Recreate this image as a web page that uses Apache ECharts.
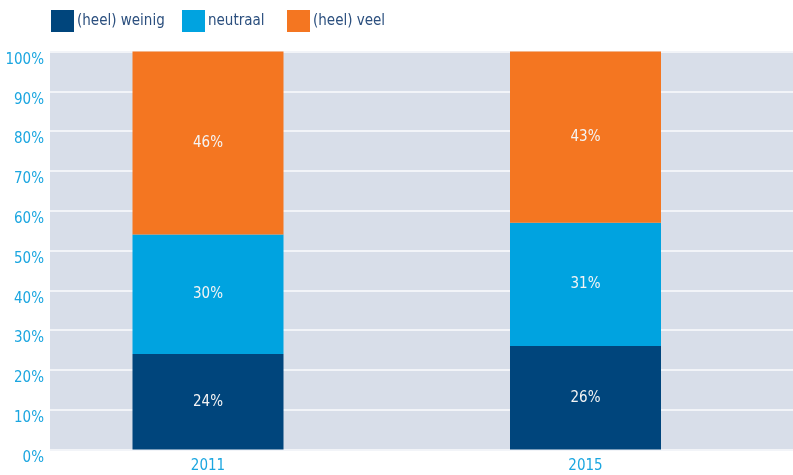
<!DOCTYPE html>
<html>
<head>
<meta charset="utf-8">
<script src="https://cdn.jsdelivr.net/npm/echarts@6/dist/echarts.min.js"></script>
<style>html,body{margin:0;padding:0;background:#fff;}#c{width:793px;height:475px;}</style>
</head>
<body>
<div id="c"></div>
<script>
var categories = ['2011', '2015'];
var weinig = [24, 26];
var neutraal = [30, 31];
var veel = [46, 43];
var seriesNames = ['(heel) weinig', 'neutraal', '(heel) veel'];
var yTicks = [0, 10, 20, 30, 40, 50, 60, 70, 80, 90, 100];

var FONT = '"DejaVu Sans Condensed", "Liberation Sans Narrow", sans-serif';
var colors = ['#00457c', '#00a3e0', '#f47621'];
var legendLefts = [51, 182, 287];

var chart = echarts.init(document.getElementById('c'), null, {renderer: 'canvas'});
function mk(name, data, color) {
  return {
    name: name, type: 'bar', stack: 'all', data: data,
    xAxisIndex: 0, yAxisIndex: 0,
    barWidth: 151,
    itemStyle: {color: color},
    label: {show: true, position: 'inside', formatter: '{c}%', color: '#f4f4f4',
            fontFamily: FONT, fontSize: 15}
  };
}
var legends = seriesNames.map(function (n, i) {
  return {
    left: legendLefts[i], top: 10, padding: 0, itemWidth: 23, itemHeight: 22,
    icon: 'rect', data: [n],
    textStyle: {color: '#2b4f7e', fontFamily: FONT, fontSize: 15, padding: [0, 0, 0, -2]}
  };
});
chart.setOption({
  animation: false,
  color: colors,
  legend: legends,
  grid: [
    {left: 19.25, right: 18.75, top: 51.5, bottom: 25.5, containLabel: false},
    {left: 50, right: 0, top: 51.5, bottom: 25.5, containLabel: false, show: true,
     backgroundColor: '#d8dee9', borderWidth: 0}
  ],
  xAxis: [
    {type: 'category', gridIndex: 0, data: categories,
     axisLine: {show: false}, axisTick: {show: false},
     axisLabel: {color: '#1ba6e0', fontFamily: FONT, fontSize: 15, margin: 9}},
    {type: 'value', gridIndex: 1, show: false, min: 0, max: 1}
  ],
  yAxis: [
    {type: 'value', gridIndex: 0, min: 0, max: 100, interval: 10, show: false,
     splitLine: {show: false}},
    {type: 'value', gridIndex: 1, min: 0, max: 100, interval: 10,
     axisLine: {show: false}, axisTick: {show: false},
     axisLabel: {color: '#1ba6e0', fontFamily: FONT, fontSize: 15, margin: 6,
                 verticalAlign: 'top', lineHeight: 15, padding: [1, 0, 0, 0],
                 formatter: function (v) { return yTicks.indexOf(v) >= 0 ? v + '%' : ''; }},
     splitLine: {show: true, lineStyle: {color: '#f2f4f8', width: 2}}}
  ],
  series: [
    mk(seriesNames[0], weinig, colors[0]),
    mk(seriesNames[1], neutraal, colors[1]),
    mk(seriesNames[2], veel, colors[2])
  ]
});
</script>
</body>
</html>
